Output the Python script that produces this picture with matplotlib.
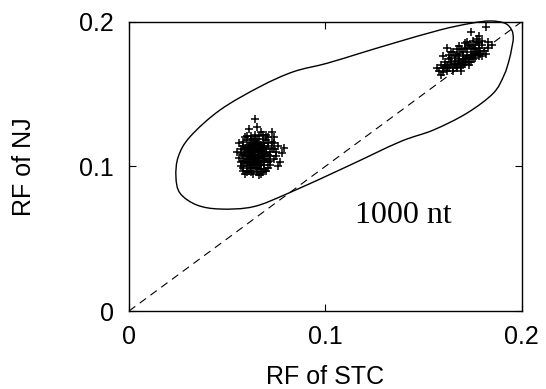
import numpy as np
import matplotlib
matplotlib.use("Agg")
import matplotlib.pyplot as plt
from matplotlib.path import Path
from matplotlib.patches import PathPatch

# ---- data ----
x_ticks = [0, 0.1, 0.2]
y_ticks = [0, 0.1, 0.2]
x_tick_labels = ["0", "0.1", "0.2"]
y_tick_labels = ["0", "0.1", "0.2"]
x_label = "RF of STC"
y_label = "RF of NJ"
annotation = "1000 nt"

cluster1 = [
    (0.060,0.108),(0.062,0.112),(0.064,0.105),(0.066,0.110),(0.063,0.101),(0.058,0.104),(0.068,0.107),(0.061,0.115),(0.065,0.117),(0.059,0.111),
    (0.067,0.103),(0.070,0.112),(0.064,0.099),(0.062,0.106),(0.057,0.109),(0.069,0.116),(0.066,0.121),(0.063,0.114),(0.060,0.100),(0.071,0.108),
    (0.065,0.104),(0.058,0.114),(0.072,0.104),(0.061,0.097),(0.067,0.098),(0.064,0.112),(0.062,0.119),(0.069,0.101),(0.056,0.106),(0.074,0.112),
    (0.066,0.107),(0.063,0.108),(0.060,0.113),(0.068,0.113),(0.065,0.096),(0.070,0.105),(0.059,0.102),(0.073,0.117),(0.062,0.103),(0.067,0.115),
    (0.064,0.108),(0.061,0.110),(0.066,0.101),(0.063,0.116),(0.069,0.110),(0.058,0.099),(0.071,0.099),(0.064,0.122),(0.060,0.118),(0.075,0.107),
    (0.067,0.109),(0.062,0.099),(0.065,0.113),(0.059,0.107),(0.068,0.104),(0.070,0.118),(0.063,0.104),(0.066,0.114),(0.061,0.105),(0.072,0.110),
    (0.064,0.102),(0.057,0.112),(0.069,0.107),(0.065,0.119),(0.060,0.096),(0.067,0.106),(0.063,0.111),(0.071,0.114),(0.062,0.116),(0.066,0.098),
    (0.076,0.114),(0.078,0.109),(0.074,0.120),(0.077,0.103),(0.061,0.126),(0.065,0.127),(0.067,0.124),(0.064,0.133),(0.070,0.122),(0.073,0.124),
    (0.059,0.095),(0.063,0.095),(0.066,0.094),(0.068,0.096),(0.057,0.100),(0.055,0.110),(0.056,0.116),(0.079,0.113),(0.076,0.100),(0.072,0.101),
    (0.064,0.115),(0.066,0.111),(0.062,0.109),(0.068,0.111),(0.060,0.105),(0.065,0.106),(0.063,0.099),(0.069,0.113),(0.061,0.102),(0.067,0.101),
    (0.058,0.117),(0.071,0.103),(0.064,0.118),(0.062,0.121),(0.070,0.097),(0.059,0.120),(0.074,0.105),(0.068,0.119),(0.066,0.104),(0.063,0.107),
    (0.060,0.110),(0.062,0.114),(0.064,0.110),(0.066,0.108),(0.065,0.102),(0.061,0.107),(0.063,0.113),(0.067,0.112),(0.069,0.104),(0.060,0.103),
    (0.058,0.108),(0.062,0.101),(0.064,0.106),(0.068,0.109),(0.066,0.116),(0.063,0.118),(0.061,0.112),(0.065,0.110),(0.070,0.109),(0.059,0.113),
    (0.057,0.103),(0.072,0.107),(0.071,0.116),(0.065,0.099),(0.069,0.098),(0.075,0.110),(0.073,0.113),(0.058,0.097),(0.060,0.121),(0.068,0.122),
    (0.071,0.120),(0.074,0.116),(0.062,0.096),(0.067,0.095),
]
cluster2 = [
    (0.160,0.168),(0.162,0.170),(0.164,0.171),(0.166,0.173),(0.168,0.174),(0.170,0.176),(0.172,0.177),(0.174,0.179),(0.176,0.181),(0.178,0.182),
    (0.163,0.168),(0.165,0.169),(0.167,0.171),(0.169,0.172),(0.171,0.174),(0.173,0.175),(0.175,0.177),(0.177,0.179),(0.179,0.180),
    (0.161,0.172),(0.163,0.174),(0.166,0.176),(0.168,0.178),(0.170,0.179),(0.172,0.181),(0.174,0.183),(0.176,0.184),(0.171,0.185),
    (0.158,0.166),(0.159,0.170),(0.162,0.166),(0.165,0.166),(0.167,0.168),(0.169,0.169),(0.171,0.171),(0.173,0.172),(0.175,0.174),(0.178,0.176),(0.181,0.180),(0.183,0.182),
    (0.164,0.175),(0.167,0.177),(0.169,0.181),(0.173,0.184),(0.175,0.187),(0.177,0.186),(0.180,0.184),(0.168,0.171),(0.170,0.173),(0.172,0.175),
    (0.174,0.176),(0.176,0.178),(0.179,0.178),(0.166,0.170),(0.164,0.172),(0.162,0.168),(0.160,0.165),(0.170,0.170),(0.177,0.188),(0.182,0.196),(0.174,0.193),
    (0.157,0.168),(0.183,0.186),(0.171,0.182),(0.165,0.179),
    (0.162,0.182),(0.164,0.179),(0.167,0.181),(0.160,0.176),(0.185,0.184),(0.182,0.178),(0.180,0.176),(0.176,0.175),(0.173,0.170),(0.169,0.166),
    (0.159,0.163),(0.161,0.169),(0.178,0.185),(0.180,0.187),(0.175,0.182),(0.172,0.186),(0.168,0.183),(0.163,0.177),(0.178,0.190),(0.174,0.172),
]

contour_x = [0.0239, 0.0251, 0.0311, 0.0464, 0.0667, 0.0837, 0.1007, 0.1177, 0.1346, 0.1584,
             0.1737, 0.1839, 0.1915, 0.1949, 0.1957, 0.1949, 0.1936, 0.1910, 0.1855, 0.1720,
             0.1550, 0.1380, 0.1109, 0.0811, 0.0633, 0.0464, 0.0345, 0.0260]
contour_y = [0.0928, 0.1067, 0.1205, 0.1390, 0.1551, 0.1654, 0.1712, 0.1782, 0.1851, 0.1943,
             0.1988, 0.2005, 0.1989, 0.1943, 0.1885, 0.1816, 0.1735, 0.1630, 0.1505, 0.1367,
             0.1251, 0.1170, 0.0998, 0.0814, 0.0721, 0.0705, 0.0733, 0.0814]

diag = [0.0, 0.2]

# ---- figure ----
fig = plt.figure(figsize=(5.46, 3.89), dpi=100)
ax = fig.add_axes([0.2363, 0.2005, 0.7192, 0.7437])

c1 = np.array(cluster1)
c2 = np.array(cluster2)
for c in (c1, c2):
    ax.plot(c[:, 0], c[:, 1], linestyle="none", marker="+", color="black",
            markersize=6, markeredgewidth=1.1)

ax.plot(diag, diag, linestyle=(0, (7, 5)), color="black", linewidth=0.8)

# smooth closed contour (Catmull-Rom converted to cubic Bezier segments)
P = np.column_stack([contour_x, contour_y])
n = len(P)
verts = [P[0]]
codes = [Path.MOVETO]
for i in range(n):
    p0, p1, p2, p3 = P[(i - 1) % n], P[i], P[(i + 1) % n], P[(i + 2) % n]
    b1 = p1 + (p2 - p0) / 6.0
    b2 = p2 - (p3 - p1) / 6.0
    verts += [b1, b2, p2]
    codes += [Path.CURVE4] * 3
patch = PathPatch(Path(verts, codes), facecolor="none", edgecolor="black",
                  linewidth=1.0, clip_on=False)
ax.add_patch(patch)

ax.text(0.1151, 0.0608, annotation, fontsize=23, family="Liberation Serif",
        ha="left", va="baseline")

ax.set_xlim(0, 0.2)
ax.set_ylim(0, 0.2)
ax.set_xticks(x_ticks)
ax.set_yticks(y_ticks)
ax.set_xticklabels(x_tick_labels, family="Liberation Sans", fontsize=18)
ax.set_yticklabels(y_tick_labels, family="Liberation Sans", fontsize=18)
ax.tick_params(direction="in", length=5, width=0.8, top=True, right=True)
ax.tick_params(axis="x", pad=10)
ax.tick_params(axis="y", pad=11)
for s in ax.spines.values():
    s.set_linewidth(1.0)

ax.set_xlabel(x_label, family="Liberation Sans", fontsize=18)
ax.set_ylabel(y_label, family="Liberation Sans", fontsize=18)
ax.xaxis.set_label_coords(0.5, -0.187)
ax.yaxis.set_label_coords(-0.236, 0.5)

fig.savefig("out.png", dpi=100)
